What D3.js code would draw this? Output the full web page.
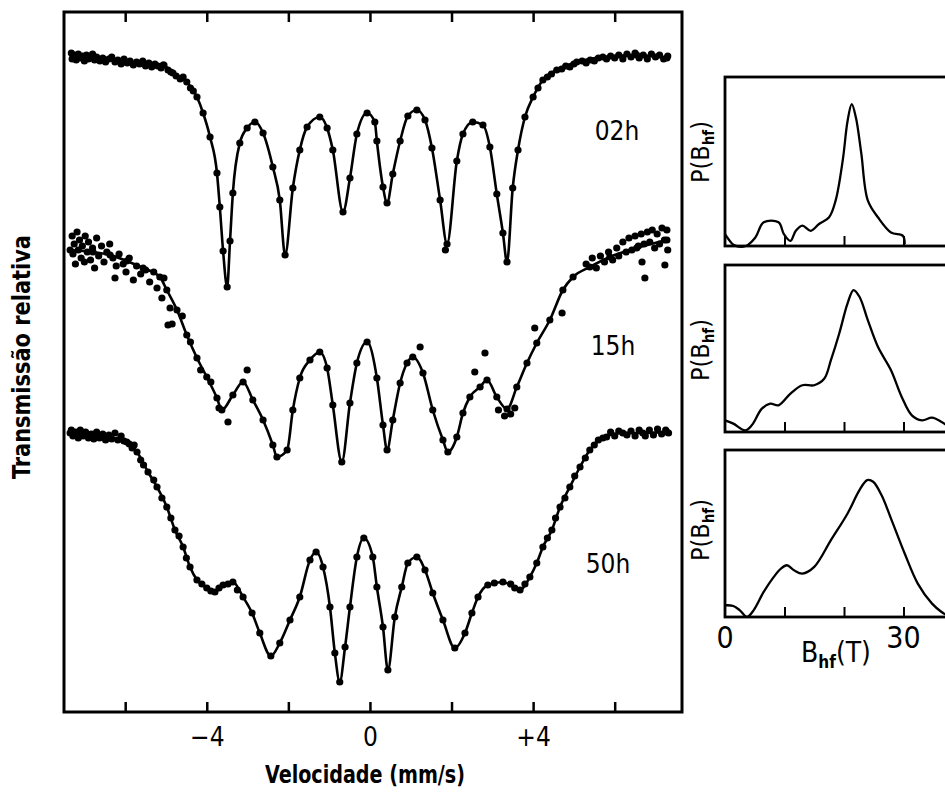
<!DOCTYPE html>
<html><head><meta charset="utf-8">
<script src="https://cdn.jsdelivr.net/npm/d3@7/dist/d3.min.js"></script>
<style>
body{margin:0;background:#fff;}
.din{font-family:"DejaVu Sans Condensed","Liberation Sans Narrow","DejaVu Sans",sans-serif;font-stretch:condensed;}
.ttl{font-family:"Liberation Sans Narrow","Arial Narrow","DejaVu Sans Condensed",sans-serif;font-weight:bold;font-stretch:condensed;}
</style></head>
<body><svg id="c" width="945" height="799"></svg>
<script>
// ---------- DATA ----------
const spectraLabels = ["02h","15h","50h"];
const baselineLevels = [32.8, 23.2, 13.9];           // stacked baseline position (%)
const velocityTicks = [-6,-4,-2,0,2,4,6];
const velocityTickLabels = {"-4":"\u22124","0":"0","4":"+4"};
const bhfTicks = [10,20,30];
const bhfTickLabels = [0,30];

// fitted curves: [velocity mm/s, relative transmission %]
const fit02 = [[-7.28,99.95],[-5.96,99.70],[-5.07,99.55],[-4.83,99.15],[-4.49,98.70],[-4.24,97.95],[-4.09,97.15],[-3.92,95.95],[-3.75,94.15],[-3.68,92.45],[-3.60,90.25],[-3.50,88.45],[-3.43,90.75],[-3.36,93.15],[-3.19,95.65],[-3.01,96.40],[-2.82,96.70],[-2.62,96.15],[-2.38,94.45],[-2.21,92.80],[-2.08,90.05],[-1.89,93.40],[-1.72,95.30],[-1.54,96.45],[-1.23,96.95],[-1.05,96.40],[-0.91,95.30],[-0.66,92.20],[-0.49,93.90],[-0.32,96.10],[-0.07,97.15],[0.12,96.70],[0.17,95.75],[0.32,93.45],[0.42,92.65],[0.56,94.10],[0.74,95.75],[0.93,97.00],[1.15,97.30],[1.35,96.80],[1.52,95.40],[1.72,92.80],[1.89,90.60],[2.13,94.75],[2.28,96.10],[2.52,96.70],[2.77,96.55],[2.94,95.45],[3.11,93.10],[3.26,91.15],[3.36,89.70],[3.50,93.40],[3.63,95.30],[3.80,96.95],[4.00,97.95],[4.24,98.80],[4.58,99.30],[5.07,99.70],[5.71,99.95],[6.54,100.05],[7.28,99.90]];
const fit15 = [[-7.35,99.90],[-6.79,99.80],[-6.37,99.65],[-5.96,99.35],[-5.56,99.00],[-5.15,98.55],[-4.98,97.90],[-4.73,96.90],[-4.49,95.65],[-4.24,94.50],[-4.00,93.55],[-3.75,92.50],[-3.63,91.90],[-3.36,92.65],[-3.11,93.30],[-2.87,92.40],[-2.62,91.40],[-2.38,90.15],[-2.28,89.55],[-2.03,89.90],[-1.89,91.90],[-1.72,93.50],[-1.47,94.40],[-1.23,94.80],[-1.05,94.00],[-0.91,92.15],[-0.69,89.30],[-0.49,92.25],[-0.32,94.25],[-0.07,95.30],[0.17,93.50],[0.32,91.15],[0.42,89.90],[0.56,91.40],[0.74,93.25],[0.91,94.25],[1.05,94.55],[1.30,93.75],[1.54,91.90],[1.79,90.40],[1.91,89.80],[2.13,90.55],[2.28,91.75],[2.45,92.55],[2.70,93.05],[2.87,93.40],[3.11,92.55],[3.36,91.95],[3.60,93.05],[3.85,94.25],[4.09,95.25],[4.41,96.40],[4.73,97.90],[4.98,98.55],[5.39,99.05],[5.88,99.55],[6.54,100.00],[7.28,100.40]];
const fit50 = [[-7.35,100.05],[-6.62,99.90],[-5.96,99.60],[-5.71,99.10],[-5.44,98.10],[-5.22,97.35],[-4.98,96.35],[-4.78,95.20],[-4.58,94.35],[-4.41,93.35],[-4.24,92.70],[-4.00,92.30],[-3.80,92.10],[-3.60,92.45],[-3.36,92.60],[-3.11,91.85],[-2.89,91.05],[-2.70,90.05],[-2.43,88.90],[-2.21,89.55],[-1.96,90.70],[-1.72,91.85],[-1.47,93.70],[-1.32,94.10],[-1.15,93.35],[-0.98,91.35],[-0.86,89.05],[-0.74,87.60],[-0.61,89.35],[-0.49,91.35],[-0.32,93.85],[-0.15,94.80],[0.07,93.85],[0.17,92.35],[0.32,90.35],[0.44,88.20],[0.61,90.85],[0.78,92.35],[0.93,93.55],[1.15,93.85],[1.35,93.20],[1.54,92.05],[1.79,90.70],[2.08,89.30],[2.33,90.05],[2.50,91.05],[2.65,91.85],[2.89,92.45],[3.26,92.60],[3.68,92.20],[3.92,92.85],[4.09,93.55],[4.24,94.35],[4.46,95.20],[4.66,96.35],[4.90,97.35],[5.15,98.35],[5.39,99.20],[5.71,99.80],[6.20,100.05],[6.69,100.05],[7.28,100.10]];

// extra measured points (besides those lying on the fit)
const pts02 = [[-7.32,100.15],[-7.30,99.85],[-7.25,100.05],[-7.20,99.80],[-7.15,100.10],[-7.10,99.90],[-7.05,100.00],[-7.00,99.75],[-6.95,100.05],[-6.90,99.85],[-6.85,99.95],[-6.80,100.10],[-6.75,99.80],[-6.70,99.95],[-6.62,99.75],[-6.55,99.90],[-6.48,99.70],[-6.40,99.85],[-6.33,99.95],[-6.25,99.70],[-6.18,99.80],[-6.10,99.60],[-6.03,99.85],[-5.95,99.65],[-5.88,99.75],[-5.80,99.55],[-5.72,99.70],[-5.65,99.60],[-5.57,99.75],[-5.50,99.50],[-5.42,99.65],[-5.35,99.45],[-5.27,99.60],[-5.20,99.50],[-5.12,99.40],[-5.05,99.55],[-4.95,99.30],[-4.88,99.20],[-4.75,99.00],[-4.65,98.85],[-4.58,98.95],[-4.40,98.40],[-4.33,98.25],[1.85,90.30],[4.12,98.40],[4.35,98.95],[4.45,99.10],[4.70,99.35],[4.80,99.50],[4.90,99.45],[5.00,99.60],[5.20,99.75],[5.30,99.65],[5.40,99.80],[5.50,99.75],[5.60,99.90],[5.80,99.85],[5.90,100.00],[6.00,99.90],[6.10,100.05],[6.20,99.85],[6.30,100.10],[6.40,99.95],[6.50,100.15],[6.60,99.90],[6.70,100.05],[6.80,99.85],[6.90,100.10],[7.00,99.95],[7.10,100.05],[7.20,99.85],[7.30,100.00]];
const pts15 = [[-7.30,100.6],[-7.28,99.7],[-7.25,100.2],[-7.22,99.2],[-7.18,100.8],[-7.15,99.9],[-7.12,100.4],[-7.08,99.5],[-7.05,100.1],[-7.00,99.3],[-6.98,100.6],[-6.93,99.8],[-6.90,100.3],[-6.85,99.4],[-6.80,100.0],[-6.75,99.0],[-6.70,100.5],[-6.65,99.6],[-6.58,100.1],[-6.52,99.3],[-6.45,99.8],[-6.38,100.2],[-6.30,99.5],[-6.25,98.5],[-6.22,99.1],[-6.15,99.7],[-6.05,99.2],[-5.98,98.8],[-5.90,99.5],[-5.80,98.4],[-5.72,99.1],[-5.62,98.7],[-5.50,98.9],[-5.40,98.3],[-5.30,98.8],[-5.22,98.0],[-5.10,97.5],[-5.05,98.5],[-4.95,96.15],[-4.90,97.0],[-4.85,96.2],[-4.60,96.6],[-4.40,95.3],[-4.15,93.9],[-3.90,93.3],[-3.70,92.0],[-3.48,91.3],[-3.01,93.9],[1.23,95.05],[2.57,93.8],[2.82,94.75],[3.15,91.9],[3.30,91.6],[3.45,91.7],[3.55,92.0],[4.04,96.0],[4.71,96.75],[5.30,99.2],[5.45,99.5],[5.55,99.0],[5.65,99.6],[5.75,99.3],[5.85,99.8],[5.95,99.4],[6.05,100.0],[6.10,99.6],[6.20,100.3],[6.28,99.8],[6.35,100.5],[6.42,99.9],[6.50,100.6],[6.58,100.1],[6.65,100.7],[6.67,99.3],[6.72,100.2],[6.74,98.5],[6.80,100.8],[6.86,100.3],[6.92,100.9],[6.98,100.0],[7.04,100.7],[7.10,100.2],[7.16,101.0],[7.22,100.4],[7.23,99.15],[7.28,100.9],[7.30,99.9]];
const pts50 = [[-7.32,100.2],[-7.28,99.9],[-7.22,100.1],[-7.15,99.8],[-7.10,100.2],[-7.03,99.9],[-6.97,100.1],[-6.90,99.8],[-6.83,100.0],[-6.77,99.75],[-6.70,100.1],[-6.63,99.8],[-6.55,100.0],[-6.48,99.7],[-6.40,99.95],[-6.33,99.75],[-6.25,100.05],[-6.18,99.7],[-6.10,99.9],[-6.03,99.65],[-5.90,99.5],[-5.83,99.3],[-5.78,99.45],[-5.62,98.7],[-5.55,98.45],[-5.30,97.7],[-5.10,96.8],[-4.88,95.8],[-4.68,94.9],[-4.50,93.8],[-4.12,92.5],[-3.90,92.15],[-3.70,92.3],[-3.48,92.5],[-3.25,92.2],[3.05,92.55],[3.45,92.5],[3.55,92.3],[3.80,92.5],[4.35,94.8],[4.55,95.8],[4.78,96.8],[5.02,97.9],[5.28,98.8],[5.50,99.45],[5.60,99.7],[5.80,99.85],[5.90,100.1],[6.00,99.9],[6.10,100.15],[6.30,99.95],[6.40,100.15],[6.50,99.9],[6.60,100.2],[6.75,99.9],[6.85,100.2],[6.95,99.95],[7.05,100.25],[7.15,100.0],[7.25,100.2],[7.32,100.05]];

// hyperfine field distributions: [Bhf (T), P relative]
const pb02 = [[0,0.07],[0.6,0.04],[1.5,0.005],[3.5,0.0],[5.1,0.05],[6.5,0.14],[9.0,0.14],[9.9,0.07],[11.0,0.03],[11.9,0.09],[13.0,0.12],[14.4,0.09],[15.8,0.13],[17.5,0.17],[18.6,0.27],[19.8,0.51],[20.6,0.74],[21.3,0.84],[22.0,0.76],[22.9,0.55],[24.0,0.27],[25.7,0.17],[27.9,0.08],[29.9,0.06],[30.2,0.01]];
const pb15 = [[0,0.07],[1.4,0.05],[3.4,0.01],[4.5,0.04],[6.2,0.14],[7.6,0.17],[9.0,0.16],[11.0,0.23],[13.0,0.28],[15.0,0.28],[16.7,0.32],[17.8,0.43],[19.2,0.59],[20.6,0.77],[21.6,0.85],[22.6,0.81],[24.0,0.67],[25.7,0.51],[27.9,0.37],[29.7,0.21],[31.4,0.10],[33.1,0.07],[34.8,0.086],[36.4,0.06],[37.3,0.04]];
const pb50 = [[0,0.07],[1.4,0.066],[2.5,0.04],[3.7,0.0],[4.8,0.04],[6.5,0.15],[8.2,0.24],[9.4,0.29],[10.4,0.31],[11.6,0.28],[13.0,0.26],[15.0,0.30],[17.8,0.46],[20.6,0.62],[22.6,0.76],[23.9,0.82],[24.9,0.81],[26.3,0.73],[28.0,0.58],[30.2,0.38],[32.4,0.20],[34.8,0.08],[36.4,0.03],[37.3,0.01]];

// ---------- DRAW ----------
const svg = d3.select("#c");
svg.append("rect").attr("width",945).attr("height",799).attr("fill","#fff");

const x = d3.scaleLinear().domain([-7.5,7.65]).range([64,682]);
const y = d3.scaleLinear().domain([0,35]).range([712,12]);

const fits = [fit02, fit15, fit50];
const pts = [pts02, pts15, pts50];
const stack = (i, T) => y(baselineLevels[i] + (T - 100));

const main = svg.append("g");
fits.forEach((f, i) => {
  const line = d3.line().x(d => x(d[0])).y(d => stack(i, d[1])).curve(d3.curveMonotoneX);
  main.append("path").datum(f).attr("d", line)
    .attr("fill","none").attr("stroke","#000").attr("stroke-width",2.6).attr("stroke-linejoin","round");
  const all = f.concat(pts[i]);
  main.selectAll(null).data(all).enter().append("circle")
    .attr("cx", d => x(d[0])).attr("cy", d => stack(i, d[1])).attr("r", 3.6).attr("fill","#000");
});

// frame + ticks
main.append("rect").attr("x",64).attr("y",12).attr("width",618).attr("height",700)
  .attr("fill","none").attr("stroke","#000").attr("stroke-width",3);
const axB = main.append("g").attr("transform","translate(0,712)")
  .call(d3.axisBottom(x).tickValues(velocityTicks).tickSizeInner(-10).tickSizeOuter(0)
    .tickFormat(d => velocityTickLabels[String(d)] || ""));
const axT = main.append("g").attr("transform","translate(0,12)")
  .call(d3.axisTop(x).tickValues(velocityTicks).tickSizeInner(-10).tickSizeOuter(0).tickFormat(""));
[axB, axT].forEach(a => {
  a.select(".domain").remove();
  a.selectAll(".tick line").attr("stroke","#000").attr("stroke-width",2.5);
});
axB.selectAll(".tick text").attr("class","din").attr("font-size",26).attr("fill","#000")
  .attr("y", 34).attr("dy", 0);

// spectrum labels
const labelX = [617, 613, 608];
const labelY = [140, 355, 573];
spectraLabels.forEach((s, i) => {
  main.append("text").attr("class","din").attr("x",labelX[i]).attr("y",labelY[i])
    .attr("text-anchor","middle").attr("font-size",26).text(s);
});

// axis titles
svg.append("text").attr("class","ttl").attr("x",365).attr("y",783).attr("text-anchor","middle")
  .attr("font-size",24).attr("textLength",200).attr("lengthAdjust","spacingAndGlyphs")
  .text("Velocidade (mm/s)");
svg.append("text").attr("class","ttl").attr("transform","translate(30,357) rotate(-90)")
  .attr("text-anchor","middle").attr("font-size",24).attr("textLength",244).attr("lengthAdjust","spacingAndGlyphs")
  .text("Transmissão relativa");

// ---------- right panels ----------
const xb = d3.scaleLinear().domain([0,40]).range([725,963]);
const panels = [[77,246,pb02,152],[265,432,pb15,350],[450,617,pb50,530]];
panels.forEach(([top,bot,data,ly]) => {
  const g = svg.append("g");
  const yp = d3.scaleLinear().domain([0,1]).range([bot,top]);
  g.append("path").datum(data)
    .attr("d", d3.line().x(d => xb(d[0])).y(d => yp(d[1])).curve(d3.curveCatmullRom.alpha(0.5)))
    .attr("fill","none").attr("stroke","#000").attr("stroke-width",2.3);
  g.append("rect").attr("x",725).attr("y",top).attr("width",240).attr("height",bot-top)
    .attr("fill","none").attr("stroke","#000").attr("stroke-width",2.8);
  const ax = g.append("g").attr("transform",`translate(0,${bot})`)
    .call(d3.axisBottom(xb).tickValues(bhfTicks).tickSizeInner(-10).tickSizeOuter(0).tickFormat(""));
  ax.select(".domain").remove();
  ax.selectAll(".tick line").attr("stroke","#000").attr("stroke-width",2);
  const t = g.append("text").attr("class","din").attr("transform",`translate(709,${ly}) rotate(-90)`)
    .attr("text-anchor","middle").attr("font-size",25);
  t.append("tspan").text("P(B");
  t.append("tspan").attr("font-size",15).attr("font-weight","bold").attr("dy",5).text("hf");
  t.append("tspan").attr("dy",-5).text(")");
});
bhfTickLabels.forEach(v => {
  svg.append("text").attr("class","din").attr("x",xb(v)).attr("y",648)
    .attr("text-anchor","middle").attr("font-size",30).text(v);
});
const bl = svg.append("text").attr("class","din").attr("x",836).attr("y",662)
  .attr("text-anchor","middle").attr("font-size",28);
bl.append("tspan").text("B");
bl.append("tspan").attr("font-size",17).attr("font-weight","bold").attr("dy",6).text("hf");
bl.append("tspan").attr("dy",-6).text("(T)");
</script>
</body></html>
